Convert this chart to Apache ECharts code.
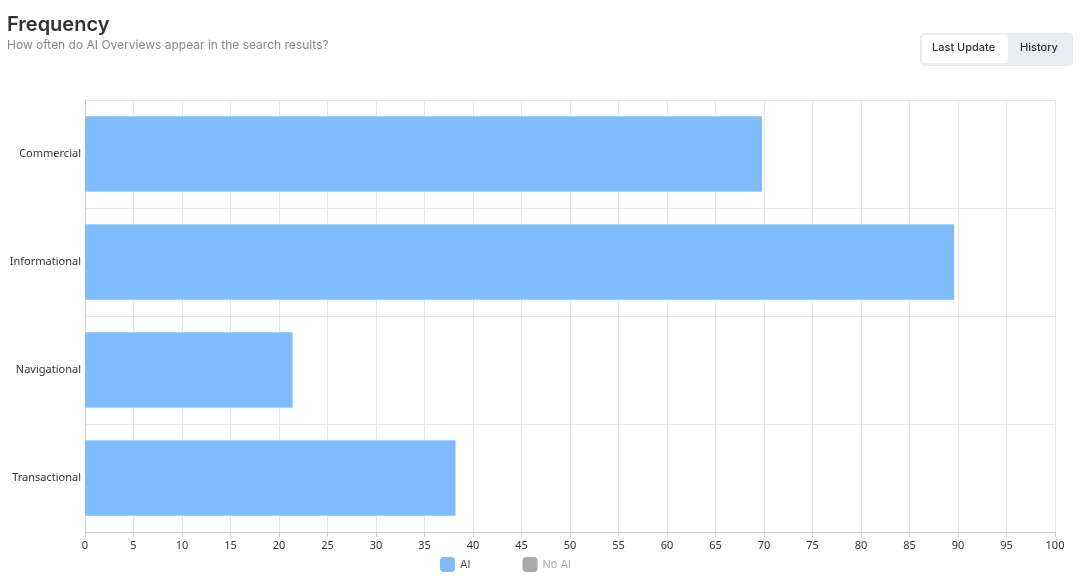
<!DOCTYPE html>
<html><head><meta charset="utf-8">
<script src="https://cdn.jsdelivr.net/npm/echarts@6/dist/echarts.min.js"></script>
<style>html,body{margin:0;padding:0;background:#fff}#c{width:1080px;height:579px}</style>
</head><body><div id="c"></div>
<script>
const categories = ["Commercial", "Informational", "Navigational", "Transactional"];
const aiValues = [69.8, 89.6, 21.4, 38.2];
const noAiValues = [30.2, 10.4, 78.6, 61.8];
const seriesNames = ["AI", "No AI"];
const titleText = "Frequency";
const subtitleText = "How often do AI Overviews appear in the search results?";

const chart = echarts.init(document.getElementById('c'));
chart.setOption({
  animation: false,
  backgroundColor: '#fff',
  title: {
    text: titleText, subtext: subtitleText, left: 2, top: 10, itemGap: 4,
    textStyle: {fontFamily: 'Inter', fontSize: 20, fontWeight: 600, color: '#333'},
    subtextStyle: {fontFamily: 'Inter', fontSize: 12, color: '#888'}
  },
  legend: {
    data: seriesNames, bottom: 2, left: 435, itemWidth: 15, itemHeight: 15, itemGap: 52,
    icon: 'roundRect', selected: {"AI": true, "No AI": false},
    textStyle: {fontFamily: 'Inter', fontSize: 11, color: '#555'},
    inactiveColor: '#aaa'
  },
  grid: {left: 85, right: 25, top: 100, bottom: 47, containLabel: false},
  xAxis: {
    type: 'value', min: 0, max: 100, interval: 5,
    axisLine: {show: true, lineStyle: {color: '#ccc'}},
    axisTick: {show: true, lineStyle: {color: '#ccc'}},
    axisLabel: {fontFamily: 'Noto Sans', fontSize: 11, color: '#333'},
    splitLine: {show: true, lineStyle: {color: '#e6e6e6'}}
  },
  yAxis: {
    type: 'category', data: categories, inverse: true,
    axisLine: {show: true, lineStyle: {color: '#ccc'}},
    axisTick: {show: false},
    axisLabel: {fontFamily: 'Noto Sans', fontSize: 11, color: '#333', margin: 4},
    splitLine: {show: true, lineStyle: {color: '#e6e6e6'}}
  },
  series: [
    {name: 'AI', type: 'bar', stack: 't', data: aiValues, barWidth: '70%',
     itemStyle: {color: '#80bbfd'}},
    {name: 'No AI', type: 'bar', stack: 't', data: noAiValues, barWidth: '70%',
     itemStyle: {color: '#aaaaaa'}}
  ],
  graphic: [
    {type: 'rect', left: 920, top: 33, shape: {width: 152, height: 32, r: 4},
     style: {fill: '#e9eef6', stroke: '#e3e8ef'}},
    {type: 'rect', left: 922, top: 35, shape: {width: 86, height: 28, r: 3},
     style: {fill: '#fff'}},
    {type: 'text', left: 932, top: 42, style: {text: 'Last Update', font: '500 11px Inter', fill: '#333'}},
    {type: 'text', left: 1020, top: 42, style: {text: 'History', font: '500 11px Inter', fill: '#333'}}
  ]
});
</script></body></html>
